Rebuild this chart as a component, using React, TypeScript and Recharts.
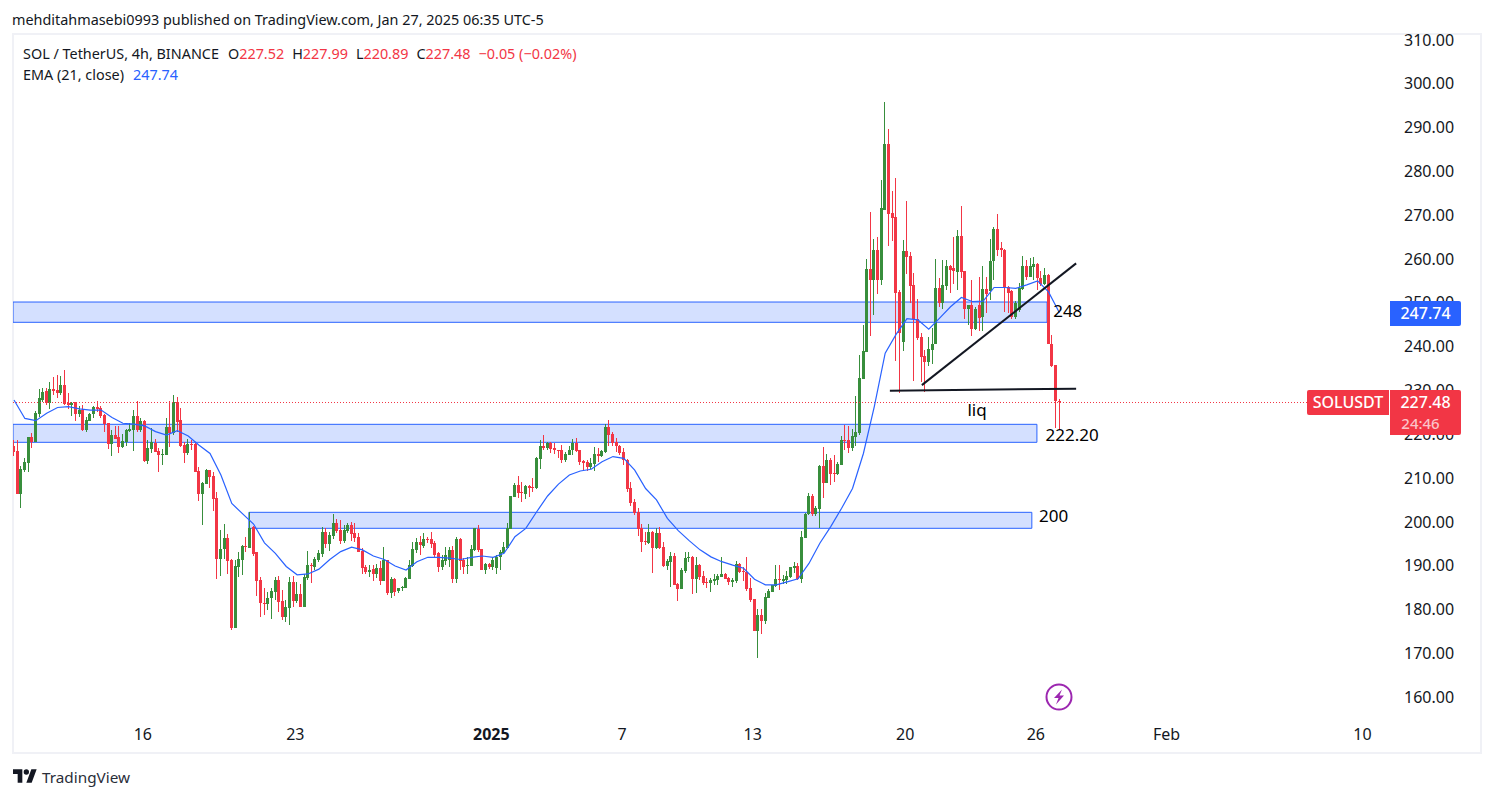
import { Bar, ComposedChart, Line, ReferenceArea, ReferenceDot, ReferenceLine, XAxis, YAxis } from "recharts";

const opens = [
  217.3,216.2,206.4,211.8,213.5,219.3,218.2,224.6,227.9,229.8,
  227.2,230.3,230.1,229.4,231.2,227.1,226.7,227.3,224.6,225.5,
  220.9,223.1,224.6,226.2,226,224.4,222.5,217.7,219.8,219.3,
  217.1,218.2,220.7,220.9,224.1,220.9,223,213.9,216.6,218.1,
  216.2,215.3,215.3,221.6,220.3,227.3,223.2,217.6,215.7,217.7,
  217.7,211.6,206.4,208.6,211.8,210.4,205.4,191.5,193.7,196.3,
  191.3,175.8,189.7,191.3,194.5,194.1,
  198.9,193,186.7,181.5,181.2,182.5,184,186.7,181.9,178.2,
  180.4,186.3,181.9,183.5,180.6,187.2,190.1,189.6,191.3,192.6,
  197.7,195,196.8,199.8,198.1,195.7,197.9,199.3,197.5,196.5,
  193.4,189.8,188.5,189.2,188.1,189.5,186.6,191.2,183.7,186.9,
  184.1,184.9,185,187,189.9,193.6,195.4,194.5,196.1,196.1,
  195.2,192.8,189.7,191.1,191.3,193.6,187,196.1,191.3,190,
  189.9,193.6,198.4,193.7,189,190.4,189.8,189.4,191.9,
  192.9,194,198.4,205.6,208.4,206.7,206.3,208.1,207.9,207.7,
  214.3,217.3,216.8,218.1,216.9,216.5,216.3,214.1,215.2,216.4,
  218.1,216.4,213.9,213.6,212.6,213.2,215.5,215.1,215.9,221.6,
  220,218.2,217.3,215.9,214.1,207.7,204.5,202.2,198.5,195.6,
  195.1,197.7,194,197.4,194.2,190,190.8,
  192.2,185.8,184.7,188.8,191.7,192,187,190.1,187.6,186.3,
  186.1,186.6,186.7,187.5,188.1,187.2,186.3,186.4,190.4,188.8,
  188.6,184.9,182.4,175.1,178.7,177.4,182.7,184,185.4,187,
  186.6,186.7,187.3,189.5,189.9,186.9,196.3,201.8,
  205.9,201.8,202.9,212.7,208.9,214.1,211.1,210.9,212.9,218.7,
  218.7,216.8,219.4,220.2,232.7,238.8,257.7,255.2,262.1,255.3,
  271.2,286.3,270.5,269.6,252.5,241.1,261.8,260.8,254.1,246.4,
  242.3,237.9,236.6,
  239.2,240.6,253.4,250,253.9,258.4,257.9,257.1,265.2,257.3,
  248.7,249.4,244.1,249.5,246.7,253.1,252.8,259.6,266.8,262.4,
  262.1,253.5,252.8,246.8,248.4,253.1,258.5,256,258.2,258.9,
  255.7,254.3,256.3,240.6,235.8,227.52,
];

const closes = [
  216,206.4,212,213.6,219.3,218.2,224.8,228.2,229.6,227.2,
  230.3,229.9,229.4,231.2,226.9,226.7,227.2,224.6,225.5,220.9,
  223.2,224.7,226.2,225.7,224.1,222.3,217.7,219.8,219,217.1,
  218.4,220.9,221.2,224.1,220.9,223,213.9,216.8,218.2,216,
  215.2,215.5,221.6,220.2,227.3,222.8,217.3,215.7,217.7,217.6,
  211.4,206.4,208.8,211.8,210.3,205.3,191.5,193.7,196.3,191.1,
  175.7,189.9,191.5,194.5,194.3,198.7,
  192.6,186.6,181.4,181.3,182.6,184.3,186.7,181.8,178.2,180.5,
  186.3,181.9,183.5,180.6,187.3,190.1,190,191.4,192.8,197.7,
  195,196.9,199.8,197.8,195.7,198.1,199.3,197.2,196.4,193.1,
  189.5,188.5,189.1,188.1,189.5,186.6,191.3,183.7,187,184,
  184.9,185.1,187.1,190.1,193.7,195.3,194.6,196.1,196,195,
  192.4,189.7,191.3,192.4,193.6,187,196.1,191.1,189.7,190.2,
  193.7,198.6,193.6,189,190.3,189.8,191.3,192,193,
  194.3,198.5,205.9,208.4,206.5,206.6,208.2,207.8,207.7,214.6,
  217.3,216.8,218.1,216.7,216.5,216.2,214.1,215.5,216.5,218.1,
  216.1,213.7,213.5,212.6,213.4,215.5,215.1,216.1,221.6,219.8,
  218.1,217.2,215.6,214,207.5,204.4,201.9,198.4,195.4,195.4,
  197.7,194,197.4,194,190,191,192.2,
  185.6,184.7,189,191.7,191.9,187,190.1,187.3,186.1,186.1,
  186.7,186.9,187.6,188.1,187,186.3,186.8,190.4,188.5,188.5,
  184.7,182.1,175.1,178.7,177.4,182.8,184.1,185.6,186.9,186.7,
  187,187.6,189.6,189.9,186.9,196.5,201.8,205.9,
  201.8,203.1,212.7,208.9,214.1,210.9,210.9,213.2,218.7,218.5,
  216.8,219.6,220.6,232.8,238.9,257.7,255.2,262.1,255.3,271.6,
  286.3,270.3,269.4,252.3,243.2,261.8,260.5,253.9,246.3,241.9,
  237.7,236.6,239.4,
  240.7,253.4,250,254.1,258.4,257.5,257.3,265.2,257.1,248.7,
  249.4,244.1,248.7,246.5,253.1,252,259.6,266.8,262,262,
  253.5,252.3,246.7,249.9,253.3,258.5,256,258.5,258.9,255.6,
  254.4,256.3,240.5,235.6,227.5,227.48,
];

const highs = [
  218.7,218.7,212.7,214.5,219.3,220.2,225.4,230.4,230.5,230.5,
  231.9,233,233.5,233.3,234.6,229.5,227.4,227.4,226.5,226.6,
  224,224.9,226.4,227.5,226.4,224.7,222.6,220.9,221.9,221.9,
  220,221.3,222.5,225.5,227.6,223.8,223.2,218.7,221.5,218.8,
  216.8,216.6,223.8,227.6,228.9,228.4,226,218.3,218.8,218.7,
  218.3,212.6,209.2,212,211.8,211.4,206.8,198.1,199.6,197.3,
  191.4,191.3,193.2,194.7,196.6,202.3,
  199.1,193,187.3,184.8,184,184.8,187.3,187.6,184.4,182.2,
  187.3,187.6,186.3,185.8,188.1,193.3,190.5,192,193.6,198.9,
  198.5,197.7,201.8,200.6,200.4,199.3,199.7,200,199.7,197.4,
  194,190.1,190.1,190.1,190.4,191.1,194.3,191.3,187.5,187.1,
  185,185.3,187.5,191.3,195.5,196.2,196.8,197.4,196.6,197.6,
  195.7,193.2,192.4,194.3,194.3,194.5,196.5,196.3,191.7,192,
  194.7,198.6,199.3,193.9,190.5,190.7,191.9,192.4,193.6,
  195.5,199.7,205.9,208.8,210.5,209.2,208.4,208.4,209.9,214.9,
  218.7,219.8,218.3,218.3,217.9,216.5,217.5,216,217.3,218.8,
  219.1,216.5,214.1,214.1,214.5,217,216.8,216.5,222.3,223.2,
  220.6,219.1,217.5,216.8,214.3,209.2,205.1,203.1,199.5,197.7,
  199.5,198,198.5,198.9,195.5,191.6,193.2,
  192.8,186,189.4,193,193,192.2,192,190.4,188.8,187.1,
  187.1,188.2,188.1,191.9,188.4,187.5,187.1,191.1,190.7,189.8,
  192,187.1,182.4,180.2,180.2,183.7,184.6,185.6,190.1,190.1,
  187.9,188.8,189.8,190.9,190.5,197.8,202.1,206.5,
  206.4,203.6,213,217,215.5,214.5,215.2,213.7,219.6,222.1,
  221.9,221.1,228.7,238.1,244.9,260,270.8,264.6,265.1,278,
  295.8,289.6,275.6,278.4,252.9,264.3,273.2,261.7,256.7,250.8,
  243,239.2,242.1,
  244.2,259.9,255.6,259.8,259.8,258.6,265.1,266.6,272.1,257.3,
  249.5,255.2,249,256,258.4,255.8,264.5,267.2,270.3,263.9,
  262.2,253.8,252.9,250.3,254.6,260.7,259.8,260.2,260.4,259,
  257.3,257.9,256.6,242.6,235.9,227.99,
];

const lows = [
  215,206.4,203.2,211.4,211.4,216.8,218.2,224,227.4,226.7,
  225.7,228.9,228.2,228.9,226.6,225.7,224.1,223.1,224,220.8,
  220.5,223.1,223.8,225.1,223.6,220.6,216.6,215,218.8,215.8,
  216.8,217.3,220.5,216.2,220.6,220.6,213.7,213.2,215.6,216,
  211.4,213,215.3,217,219.8,220.6,217,213.5,215.2,216.4,
  211.4,204.8,199.3,208.6,207.7,202.5,186.9,187.6,191.4,188.1,
  175.3,175.8,187.5,187.9,193.2,194.1,
  192.2,183.1,178.3,178.7,179.9,177.9,182.2,179.3,177.7,177.2,
  176.5,180.6,181.4,180.6,180.6,186.7,186.1,189.1,190.9,192,
  194,193.4,196,197.5,195,195.1,197.5,195.7,195.5,193,
  188.1,188.1,187.5,186.6,187.1,185.6,186.6,183.3,182.7,183.1,
  183.8,184.3,184.8,186.9,189.7,192.8,192.4,194,195.2,194,
  192,188.6,188.9,190.1,189.8,186.1,186,189,188.1,188.2,
  189.9,193.4,193,189,188.1,189.2,189,188.1,189.1,
  192.8,193.9,198.4,205.6,205.4,204.6,205.1,205.6,206.9,207.6,
  212,216.4,216.4,215.8,215.5,214.5,213.5,213.7,215.2,215.2,
  216,213,211.5,211.5,212,211.7,213.7,214.9,215.8,217.3,
  217.2,216,215.2,213,206.9,203.5,201.6,196.8,193.2,194.7,
  194.9,188.4,193.9,193.9,189.8,189,185.2,
  185.6,181.9,184.7,188.4,190.9,183.5,183.8,186.7,185.6,185,
  184,185.6,185.6,187.3,186.9,185.6,185.2,186.1,188.4,186.5,
  184.3,181.6,175.1,169,174.4,176.7,182.5,183.9,185.2,184.4,
  185.8,185.8,187.1,188.4,186.7,186.1,196.3,201.6,
  201.3,201.3,198.5,205.4,208.8,208.4,209.2,210.7,212.9,216.5,
  215.8,216.2,217.3,219.8,232.5,238.8,242.4,247.2,252,254.1,
  271.2,263,264.2,236.8,229.5,239.1,256.6,250,232.2,241.5,
  232,229.7,235.6,
  236,240.6,249,248.7,252.9,252.2,254.3,252.9,255.6,246.2,
  244.9,242.4,243.8,243.6,243.6,247.6,250.6,255.2,260.7,260.4,
  248,247.6,246.2,246.2,248,252.9,255.2,255.8,255.1,252.9,
  253.8,254,240.5,235.4,221.5,220.89,
];

const emaReadings = [
  227.8,223.6,223.1,224.8,226.1,226.3,225.8,225.5,225.5,223.8,222.5,
  222.3,221.9,220.6,219.8,220.8,219.6,217.5,215.6,210.7,204.2,
  201.8,199.5,195.2,192.8,189.8,187.9,188.1,189.2,191.4,193.2,
  194.2,193.6,192.2,191.4,189.9,189,190.9,191.9,191.9,191.7,
  191.4,191.9,192.2,191.9,192.8,196.6,198.5,202.3,205.9,208.6,
  210.7,211.6,212,213.7,214.9,214.5,211.8,207.6,205,200.8,
  198,195.7,193.6,192,190.9,190.1,189.4,186.9,185.6,185.6,
  186.3,187,190.5,195.1,198.9,203.1,207.6,215.6,226.3,238.5,
  242.8,246.4,246.1,244,246.5,249.1,251.2,250.3,250.4,253.5,
  253.5,253.3,254.1,255,252.5,247.74,
];

const priceTicks = [160,170,180,190,200,210,220,230,240,250,260,270,280,290,300,310];
const timeTicks = [35.5,77.5,131.5,167.5,203.5,245.5,281.5,317.5,371.5];
const timeLabels = ["16","23","2025","7","13","20","26","Feb","10"];

const xMin = -0.275;
const xMax = 381;

const zones = [
  { x1: xMin, x2: 284.6, top: 250.18, bottom: 245.55 },
  { x1: xMin, x2: 281.8, top: 222.26, bottom: 218.15 },
  { x1: 64.7, x2: 280.4, top: 202.17, bottom: 198.52 },
];

const notes = [
  { x: 290.3, y: 248.2, text: "248" },
  { x: 291.5, y: 219.75, text: "222.20" },
  { x: 286.4, y: 201.34, text: "200" },
  { x: 265.3, y: 225.5, text: "liq" },
];

const table = opens.map((open, i) => ({
  x: i,
  open,
  close: closes[i],
  range: [lows[i], highs[i]],
  ema: i % 3 === 0 ? emaReadings[i / 3] : undefined,
}));

const GREEN = "#388e3c";
const RED = "#f23645";
const BLUE = "#2962ff";
const INK = "#131722";
const FONT = "'Noto Sans', sans-serif";

function Candle(props: any) {
  const { x, y, width, height, payload } = props;
  const high = payload.range[1];
  const low = payload.range[0];
  const perUnit = high === low ? 0 : height / (high - low);
  const top = y + (high - Math.max(payload.open, payload.close)) * perUnit;
  const bodyH = Math.max(1, Math.abs(payload.open - payload.close) * perUnit);
  const cx = Math.round(x + width / 2 - 0.5);
  const color = payload.close < payload.open ? RED : GREEN;
  return (
    <g shapeRendering="crispEdges">
      <rect x={cx} y={y} width={1} height={height} fill={color} />
      <rect x={cx - 1} y={top} width={3} height={bodyH} fill={color} />
    </g>
  );
}

function TimeTick(props: any) {
  const { x, y, payload } = props;
  const label = timeLabels[timeTicks.indexOf(payload.value)];
  return (
    <text
      x={x}
      y={y + 10}
      textAnchor="middle"
      fontSize={16}
      fontFamily={FONT}
      fontWeight={label === "2025" ? 700 : 400}
      fill={INK}
    >
      {label}
    </text>
  );
}

function NoteLabel(props: any) {
  const { viewBox, value } = props;
  return (
    <text x={viewBox.x} y={viewBox.y + 6} textAnchor="middle" fontSize={17} fontFamily={FONT} fill="#000">
      {value}
    </text>
  );
}

const abs = (left: number, top: number, extra: any = {}) => ({
  position: "absolute" as const,
  left,
  top,
  whiteSpace: "nowrap" as const,
  ...extra,
});

export default function App() {
  return (
    <div style={{ position: "absolute", left: 0, top: 0, width: 1494, height: 798, background: "#fff", fontFamily: FONT, color: INK, overflow: "hidden" }}>
      <div style={abs(12, 10, { fontSize: 14.4, lineHeight: "20px" })}>
        mehditahmasebi0993 published on TradingView.com, Jan 27, 2025 06:35 UTC-5
      </div>
      <div style={{ position: "absolute", left: 12, top: 33, width: 1470, height: 721, boxSizing: "border-box", border: "2px solid #f0f1f6" }} />

      <div style={{ position: "absolute", left: 13, top: 25 }}>
        <ComposedChart width={1468} height={728} data={table} margin={{ top: 10, right: 0, bottom: 0, left: 0 }}>
          <XAxis
            dataKey="x"
            type="number"
            domain={[xMin, xMax]}
            allowDataOverflow
            ticks={timeTicks}
            tick={<TimeTick />}
            axisLine={false}
            tickLine={false}
            height={31}
            interval={0}
          />
          <YAxis
            orientation="right"
            type="number"
            domain={[154.3, 311.14]}
            allowDataOverflow
            ticks={priceTicks}
            tickFormatter={(v: number) => v.toFixed(2)}
            tick={{ fontSize: 16, fontFamily: FONT, fill: INK }}
            axisLine={false}
            tickLine={false}
            tickMargin={1}
            width={84}
            interval={0}
          />
          {zones.map((z, i) => (
            <ReferenceArea
              key={i}
              x1={z.x1}
              x2={z.x2}
              y1={z.bottom}
              y2={z.top}
              fill="#2962ff"
              fillOpacity={0.2}
              stroke={BLUE}
              strokeOpacity={1}
              strokeWidth={1}
            />
          ))}
          <ReferenceLine y={227.24} stroke={RED} strokeDasharray="1 2" />
          <Bar dataKey="range" barSize={3} shape={<Candle />} isAnimationActive={false} />
          <Line dataKey="ema" stroke={BLUE} strokeWidth={1.2} dot={false} connectNulls isAnimationActive={false} />
          <ReferenceLine segment={[{ x: 241.3, y: 229.9 }, { x: 292.6, y: 230.4 }]} stroke={INK} strokeWidth={2} />
          <ReferenceLine segment={[{ x: 250.1, y: 231.2 }, { x: 292.6, y: 259 }]} stroke={INK} strokeWidth={2} />
          {notes.map((n) => (
            <ReferenceDot key={n.text} x={n.x} y={n.y} r={0} stroke="none" label={<NoteLabel value={n.text} />} />
          ))}
        </ComposedChart>
      </div>

      <div style={abs(23, 44, { fontSize: 14.4, lineHeight: "20px" })}>
        SOL / TetherUS, 4h, BINANCE
        <span style={{ marginLeft: 9 }}>O</span><span style={{ color: RED }}>227.52</span>
        <span style={{ marginLeft: 8 }}>H</span><span style={{ color: RED }}>227.99</span>
        <span style={{ marginLeft: 8 }}>L</span><span style={{ color: RED }}>220.89</span>
        <span style={{ marginLeft: 8 }}>C</span><span style={{ color: RED }}>227.48</span>
        <span style={{ marginLeft: 8, color: RED }}>−0.05 (−0.02%)</span>
      </div>
      <div style={abs(23, 65, { fontSize: 14.4, lineHeight: "20px" })}>
        EMA (21, close)<span style={{ marginLeft: 9, color: BLUE }}>247.74</span>
      </div>

      <div style={abs(1390, 301, { width: 71, height: 25, background: BLUE, color: "#fff", fontSize: 16, lineHeight: "25px", textAlign: "center", fontWeight: 500, borderRadius: "0 2px 2px 0" })}>
        247.74
      </div>
      <div style={abs(1307, 390, { width: 82, height: 25, background: RED, color: "#fff", fontSize: 16, lineHeight: "25px", textAlign: "center", fontWeight: 500, borderRadius: "2px 0 0 2px" })}>
        SOLUSDT
      </div>
      <div style={abs(1390, 390, { width: 71, height: 45, background: RED, color: "#fff", fontSize: 16, lineHeight: "22px", textAlign: "center", fontWeight: 500, borderRadius: "0 2px 2px 0" })}>
        <div style={{ marginTop: 1 }}>227.48</div>
        <div style={{ color: "#fbc4c9", fontSize: 15, marginRight: 10, marginTop: -1 }}>24:46</div>
      </div>

      <svg style={abs(1045, 683)} width={28} height={28} viewBox="0 0 28 28">
        <circle cx={14} cy={14} r={12.5} fill="#fff" stroke="#9c27b0" strokeWidth={2} />
        <path d="M17 6.5 L9 15 H13.5 L11 21.5 L19 12.5 H14.5 Z" fill="#9c27b0" />
      </svg>

      <svg style={abs(13, 769)} width={24} height={14} viewBox="0 0 36 20">
        <path d="M14 20H7V7H0V0h14v20zM28 20h-8L27.5 0h8L28 20z" fill={INK} />
        <circle cx={20} cy={4} r={4} fill={INK} />
      </svg>
      <div style={abs(42, 767, { fontSize: 15.3, lineHeight: "20px", color: "#2a2e39" })}>TradingView</div>
    </div>
  );
}
